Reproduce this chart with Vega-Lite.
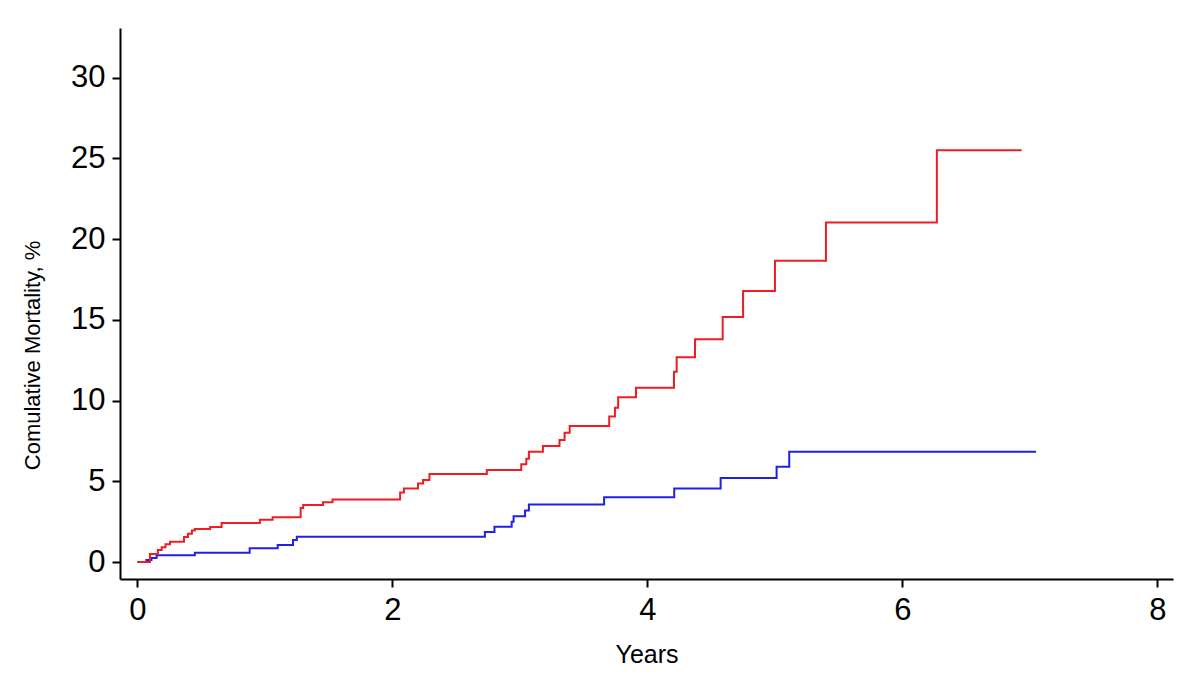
{
  "$schema": "https://vega.github.io/schema/vega-lite/v6.json",
  "width": 1053,
  "height": 551,
  "autosize": {"type": "none"},
  "padding": {"left": 120, "top": 28, "right": 27, "bottom": 106},
  "background": "white",
  "config": {
    "view": {"stroke": null},
    "axis": {
      "grid": false,
      "domainColor": "black",
      "domainWidth": 2,
      "tickColor": "black",
      "tickWidth": 2,
      "tickSize": 8,
      "labelFont": "Liberation Sans",
      "labelFontSize": 31,
      "labelColor": "black",
      "labelFlush": false,
      "labelOverlap": false,
      "titleFont": "Liberation Sans",
      "titleFontWeight": "normal",
      "titleColor": "black"
    }
  },
  "data": {
    "values": [
      {"group": "blue", "t": 0, "v": 0},
      {"group": "blue", "t": 0.07, "v": 0.12},
      {"group": "blue", "t": 0.11, "v": 0.25},
      {"group": "blue", "t": 0.15, "v": 0.42},
      {"group": "blue", "t": 0.45, "v": 0.58},
      {"group": "blue", "t": 0.88, "v": 0.85},
      {"group": "blue", "t": 1.10, "v": 1.05},
      {"group": "blue", "t": 1.22, "v": 1.36},
      {"group": "blue", "t": 1.25, "v": 1.57},
      {"group": "blue", "t": 2.725, "v": 1.86},
      {"group": "blue", "t": 2.80, "v": 2.19},
      {"group": "blue", "t": 2.935, "v": 2.5},
      {"group": "blue", "t": 2.95, "v": 2.83},
      {"group": "blue", "t": 3.04, "v": 3.19},
      {"group": "blue", "t": 3.07, "v": 3.57},
      {"group": "blue", "t": 3.66, "v": 4.02},
      {"group": "blue", "t": 4.21, "v": 4.55},
      {"group": "blue", "t": 4.574, "v": 5.2},
      {"group": "blue", "t": 5.013, "v": 5.9},
      {"group": "blue", "t": 5.112, "v": 6.83},
      {"group": "blue", "t": 7.047, "v": 6.83},
      {"group": "red", "t": 0, "v": 0},
      {"group": "red", "t": 0.098, "v": 0.5},
      {"group": "red", "t": 0.16, "v": 0.74},
      {"group": "red", "t": 0.19, "v": 0.92},
      {"group": "red", "t": 0.22, "v": 1.1},
      {"group": "red", "t": 0.255, "v": 1.25},
      {"group": "red", "t": 0.365, "v": 1.55},
      {"group": "red", "t": 0.396, "v": 1.75},
      {"group": "red", "t": 0.427, "v": 1.95},
      {"group": "red", "t": 0.45, "v": 2.05},
      {"group": "red", "t": 0.57, "v": 2.17},
      {"group": "red", "t": 0.66, "v": 2.42},
      {"group": "red", "t": 0.96, "v": 2.62},
      {"group": "red", "t": 1.06, "v": 2.78},
      {"group": "red", "t": 1.28, "v": 3.34},
      {"group": "red", "t": 1.30, "v": 3.53},
      {"group": "red", "t": 1.455, "v": 3.7},
      {"group": "red", "t": 1.53, "v": 3.88},
      {"group": "red", "t": 2.06, "v": 4.3},
      {"group": "red", "t": 2.09, "v": 4.55},
      {"group": "red", "t": 2.20, "v": 4.87},
      {"group": "red", "t": 2.24, "v": 5.08},
      {"group": "red", "t": 2.29, "v": 5.45},
      {"group": "red", "t": 2.74, "v": 5.7},
      {"group": "red", "t": 3.01, "v": 6.05},
      {"group": "red", "t": 3.05, "v": 6.4},
      {"group": "red", "t": 3.07, "v": 6.83},
      {"group": "red", "t": 3.18, "v": 7.18},
      {"group": "red", "t": 3.31, "v": 7.55},
      {"group": "red", "t": 3.35, "v": 8.0},
      {"group": "red", "t": 3.39, "v": 8.43},
      {"group": "red", "t": 3.70, "v": 9.02},
      {"group": "red", "t": 3.745, "v": 9.55},
      {"group": "red", "t": 3.77, "v": 10.2},
      {"group": "red", "t": 3.91, "v": 10.8},
      {"group": "red", "t": 4.208, "v": 11.78},
      {"group": "red", "t": 4.229, "v": 12.68},
      {"group": "red", "t": 4.373, "v": 13.8},
      {"group": "red", "t": 4.59, "v": 15.18},
      {"group": "red", "t": 4.75, "v": 16.78},
      {"group": "red", "t": 5.0, "v": 18.66},
      {"group": "red", "t": 5.40, "v": 21.02},
      {"group": "red", "t": 6.27, "v": 25.5},
      {"group": "red", "t": 6.935, "v": 25.5}
    ]
  },
  "mark": {"type": "line", "interpolate": "step-after", "strokeWidth": 2, "clip": false},
  "encoding": {
    "x": {
      "field": "t",
      "type": "quantitative",
      "scale": {"domain": [-0.137, 8.122], "nice": false, "zero": false},
      "axis": {
        "values": [0, 2, 4, 6, 8],
        "title": "Years",
        "titleFontSize": 25,
        "titlePadding": 17,
        "labelPadding": 8
      }
    },
    "y": {
      "field": "v",
      "type": "quantitative",
      "scale": {"domain": [-1.05, 33.07], "nice": false, "zero": false},
      "axis": {
        "values": [0, 5, 10, 15, 20, 25, 30],
        "title": "Comulative Mortality, %",
        "titleFontSize": 22,
        "titleX": -88,
        "titleY": 327,
        "titleAngle": -90,
        "titleAlign": "center",
        "titleBaseline": "middle",
        "labelPadding": 7
      }
    },
    "color": {
      "field": "group",
      "type": "nominal",
      "scale": {"domain": ["blue", "red"], "range": ["#2020e6", "#ee1d23"]},
      "legend": null
    },
    "order": {"field": "t", "type": "quantitative"}
  }
}
